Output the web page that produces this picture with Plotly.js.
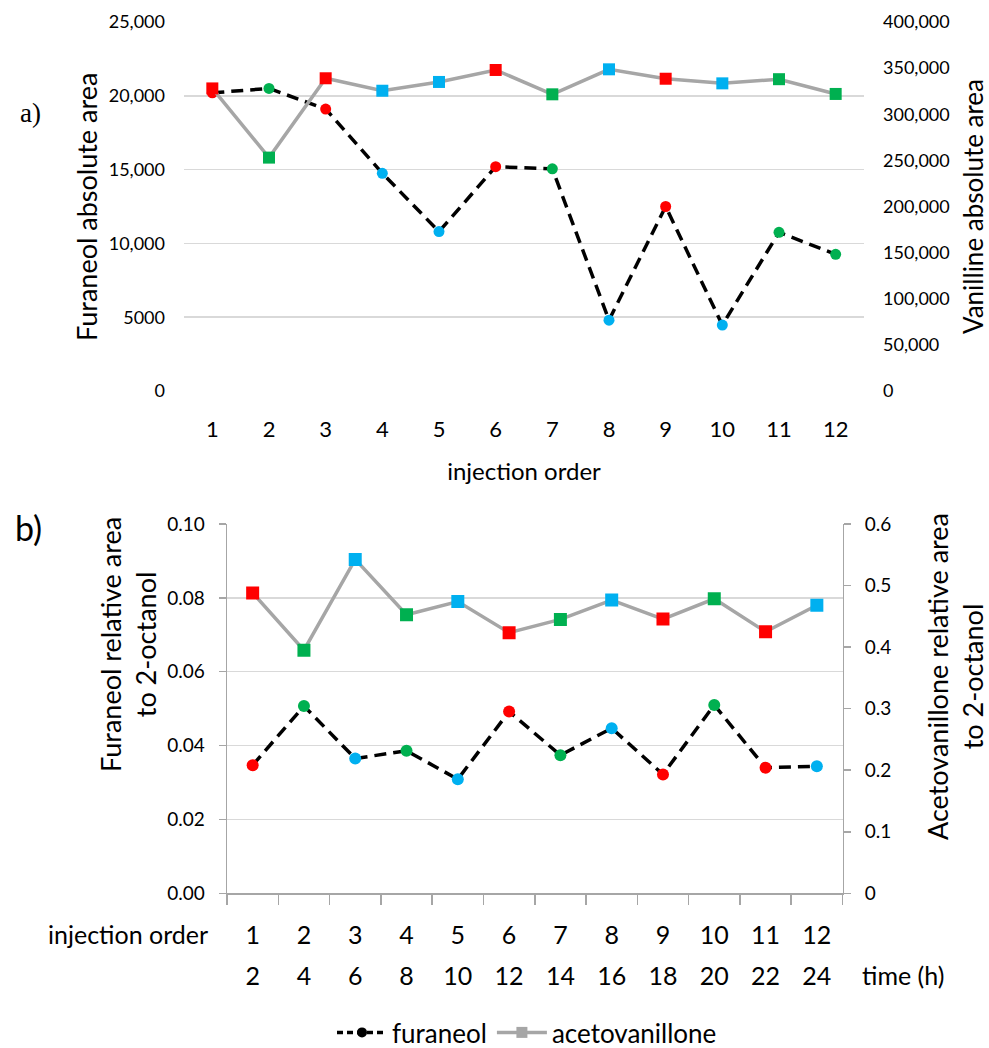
<!DOCTYPE html>
<html>
<head>
<meta charset="utf-8">
<script src="https://cdn.plot.ly/plotly-3.0.1.min.js"></script>
<style>html,body{margin:0;padding:0;background:#fff;}#chart{width:989px;height:1048px;}</style>
</head>
<body>
<div id="chart"></div>
<script>
// ---------- data ----------
const injectionOrder = [1, 2, 3, 4, 5, 6, 7, 8, 9, 10, 11, 12];
const injectionLabels = ['1','2','3','4','5','6','7','8','9','10','11','12'];
const timeLabels = ['2','4','6','8','10','12','14','16','18','20','22','24'];

// panel a) absolute areas
const furaneolAbs = [20200, 20500, 19100, 14750, 10800, 15200, 15050, 4800, 12500, 4470, 10750, 9260];
const vanillineAbs = [328000, 253000, 339000, 325500, 335000, 348000, 321600, 348700, 338500, 333500, 338000, 322000];
const colorsA = ['red','green','red','blue','blue','red','green','blue','red','blue','green','green'];

// panel b) relative areas to 2-octanol
const furaneolRel = [0.0347, 0.0507, 0.0365, 0.0386, 0.0309, 0.0492, 0.0374, 0.0447, 0.0322, 0.0510, 0.0340, 0.0344];
const acetovanilloneRel = [0.488, 0.395, 0.5425, 0.4525, 0.474, 0.4235, 0.445, 0.4765, 0.4455, 0.4785, 0.425, 0.468];
const colorsB = ['red','green','blue','green','blue','red','green','blue','red','green','red','blue'];

// tick labels
const leftTickValsA = [0, 5000, 10000, 15000, 20000, 25000];
const leftTickTextA = ['0', '5000', '10,000', '15,000', '20,000', '25,000'];
const rightTickValsA = [0, 50000, 100000, 150000, 200000, 250000, 300000, 350000, 400000];
const rightTickTextA = ['0', '50,000', '100,000', '150,000', '200,000', '250,000', '300,000', '350,000', '400,000'];
const leftTickValsB = [0, 0.02, 0.04, 0.06, 0.08, 0.10];
const leftTickTextB = ['0.00', '0.02', '0.04', '0.06', '0.08', '0.10'];
const rightTickValsB = [0, 0.1, 0.2, 0.3, 0.4, 0.5, 0.6];
const rightTickTextB = ['0', '0.1', '0.2', '0.3', '0.4', '0.5', '0.6'];

// ---------- styling ----------
const palette = {red: '#ff0000', green: '#00b050', blue: '#00b0f0'};
const W = 989, H = 1048;
const px = v => v / W;
const py = v => 1 - v / H;
const FONT = 'Lato, "Open Sans", sans-serif';
const GRID = '#d9d9d9';
const AXIS = '#a6a6a6';
const DASH = '12px,7px';

const traces = [
  { // a) furaneol
    x: injectionOrder, y: furaneolAbs, xaxis: 'x', yaxis: 'y',
    mode: 'lines+markers', showlegend: false, hoverinfo: 'x+y',
    line: {color: '#000', width: 3.5, dash: DASH},
    marker: {symbol: 'circle', size: 11, color: colorsA.map(c => palette[c])}
  },
  { // a) vanilline
    x: injectionOrder, y: vanillineAbs, xaxis: 'x', yaxis: 'y2',
    mode: 'lines+markers', showlegend: false, hoverinfo: 'x+y',
    line: {color: AXIS, width: 3.5},
    marker: {symbol: 'square', size: 12, color: colorsA.map(c => palette[c])}
  },
  { // b) furaneol
    x: injectionOrder, y: furaneolRel, xaxis: 'x2', yaxis: 'y3',
    mode: 'lines+markers', showlegend: false, hoverinfo: 'x+y',
    line: {color: '#000', width: 3.5, dash: DASH},
    marker: {symbol: 'circle', size: 12, color: colorsB.map(c => palette[c])}
  },
  { // b) acetovanillone
    x: injectionOrder, y: acetovanilloneRel, xaxis: 'x2', yaxis: 'y4',
    mode: 'lines+markers', showlegend: false, hoverinfo: 'x+y',
    line: {color: AXIS, width: 3.5},
    marker: {symbol: 'square', size: 13, color: colorsB.map(c => palette[c])}
  },
  { // legend entries (also anchor the two label rows of panel b)
    x: [null], y: [null], xaxis: 'x3', yaxis: 'y3', name: 'furaneol',
    mode: 'lines+markers', line: {color: '#000', width: 3.5, dash: '6px,4px'},
    marker: {symbol: 'circle', size: 10, color: '#000'}
  },
  {
    x: [null], y: [null], xaxis: 'x4', yaxis: 'y4', name: 'acetovanillone',
    mode: 'lines+markers', line: {color: AXIS, width: 3.5},
    marker: {symbol: 'square', size: 11, color: AXIS}
  }
];

const domA = [px(184), px(864)];
const domB = [px(227), px(842.5)];

const layout = {
  width: W, height: H,
  margin: {l: 0, r: 0, t: 0, b: 0, autoexpand: false},
  paper_bgcolor: '#fff', plot_bgcolor: 'rgba(0,0,0,0)',
  font: {family: FONT, color: '#000', size: 18},
  showlegend: true,
  legend: {
    orientation: 'h', x: px(527), xanchor: 'center', y: py(1056), yanchor: 'bottom',
    bgcolor: 'rgba(0,0,0,0)',
    font: {family: FONT, size: 26, color: '#000'}, itemwidth: 50, tracegroupgap: 0
  },
  xaxis: {
    domain: domA, anchor: 'y', range: [0.5, 12.5],
    tickmode: 'array', tickvals: injectionOrder, ticktext: injectionLabels,
    showgrid: false, zeroline: false, showline: false, ticks: '',
    ticklabelstandoff: 23, tickfont: {size: 22},
    title: {text: 'injection order', font: {size: 24}, standoff: 22}
  },
  yaxis: {
    domain: [py(391), py(22)], anchor: 'x', range: [0, 25000],
    tickmode: 'array', tickvals: leftTickValsA, ticktext: leftTickTextA,
    showgrid: true, gridcolor: GRID, gridwidth: 1.5, zeroline: false, showline: false, ticks: '',
    ticklabelstandoff: 18, tickfont: {size: 18}
  },
  yaxis2: {
    overlaying: 'y', side: 'right', anchor: 'x', range: [0, 400000],
    tickmode: 'array', tickvals: rightTickValsA, ticktext: rightTickTextA,
    showgrid: false, zeroline: false, showline: false, ticks: '',
    ticklabelstandoff: 18, tickfont: {size: 18}
  },
  xaxis2: {
    domain: domB, anchor: 'y3', range: [0.5, 12.5],
    tickmode: 'linear', tick0: 0.5, dtick: 1,
    ticks: 'outside', ticklen: 10, tickwidth: 1.5, tickcolor: AXIS,
    showticklabels: false, showgrid: false, zeroline: false,
    showline: true, linecolor: AXIS, linewidth: 1.5
  },
  xaxis3: {
    overlaying: 'x2', anchor: 'free', position: py(918), side: 'bottom', range: [0.5, 12.5],
    tickmode: 'array', tickvals: injectionOrder, ticktext: injectionLabels,
    ticks: '', showgrid: false, zeroline: false, showline: false, tickfont: {size: 25}
  },
  xaxis4: {
    overlaying: 'x2', anchor: 'free', position: py(959), side: 'bottom', range: [0.5, 12.5],
    tickmode: 'array', tickvals: injectionOrder, ticktext: timeLabels,
    ticks: '', showgrid: false, zeroline: false, showline: false, tickfont: {size: 25}
  },
  yaxis3: {
    domain: [py(893.3), py(524)], anchor: 'x2', range: [0, 0.10],
    tickmode: 'array', tickvals: leftTickValsB, ticktext: leftTickTextB,
    ticks: 'outside', ticklen: 7, tickwidth: 1.5, tickcolor: AXIS,
    showline: true, linecolor: AXIS, linewidth: 1.5,
    showgrid: true, gridcolor: GRID, gridwidth: 1.5, zeroline: false,
    ticklabelstandoff: 10, tickfont: {size: 19}
  },
  yaxis4: {
    overlaying: 'y3', side: 'right', anchor: 'x2', range: [0, 0.6],
    tickmode: 'array', tickvals: rightTickValsB, ticktext: rightTickTextB,
    ticks: 'outside', ticklen: 7, tickwidth: 1.5, tickcolor: AXIS,
    showline: true, linecolor: AXIS, linewidth: 1.5,
    showgrid: false, zeroline: false,
    ticklabelstandoff: 10, tickfont: {size: 19}
  },
  annotations: [
    {text: 'a)', x: px(30), y: py(113), xref: 'paper', yref: 'paper', showarrow: false,
     xanchor: 'center', yanchor: 'middle', font: {family: '"Liberation Serif", "DejaVu Serif", serif', size: 27}},
    {text: 'b)', x: px(28), y: py(527), xref: 'paper', yref: 'paper', showarrow: false,
     xanchor: 'center', yanchor: 'middle', font: {family: FONT, size: 34}},
    {text: 'Furaneol absolute area', x: px(87), y: py(207), xref: 'paper', yref: 'paper', showarrow: false,
     textangle: -90, xanchor: 'center', yanchor: 'middle', font: {size: 27}},
    {text: 'Vanilline absolute area', x: px(973), y: py(207), xref: 'paper', yref: 'paper', showarrow: false,
     textangle: -90, xanchor: 'center', yanchor: 'middle', font: {size: 26}},
    {text: 'Furaneol relative area<br>to 2-octanol', x: px(128), y: py(645), xref: 'paper', yref: 'paper', showarrow: false,
     textangle: -90, xanchor: 'center', yanchor: 'middle', font: {size: 27}},
    {text: 'Acetovanillone relative area<br>to 2-octanol', x: px(955), y: py(677), xref: 'paper', yref: 'paper', showarrow: false,
     textangle: -90, xanchor: 'center', yanchor: 'middle', font: {size: 27}},
    {text: 'injection order', x: px(210), y: py(934), xref: 'paper', yref: 'paper', showarrow: false,
     xanchor: 'right', yanchor: 'middle', font: {size: 25}},
    {text: 'time (h)', x: px(860), y: py(975), xref: 'paper', yref: 'paper', showarrow: false,
     xanchor: 'left', yanchor: 'middle', font: {size: 25}}
  ]
};

Plotly.newPlot('chart', traces, layout, {displayModeBar: false, staticPlot: true});
</script>
</body>
</html>
